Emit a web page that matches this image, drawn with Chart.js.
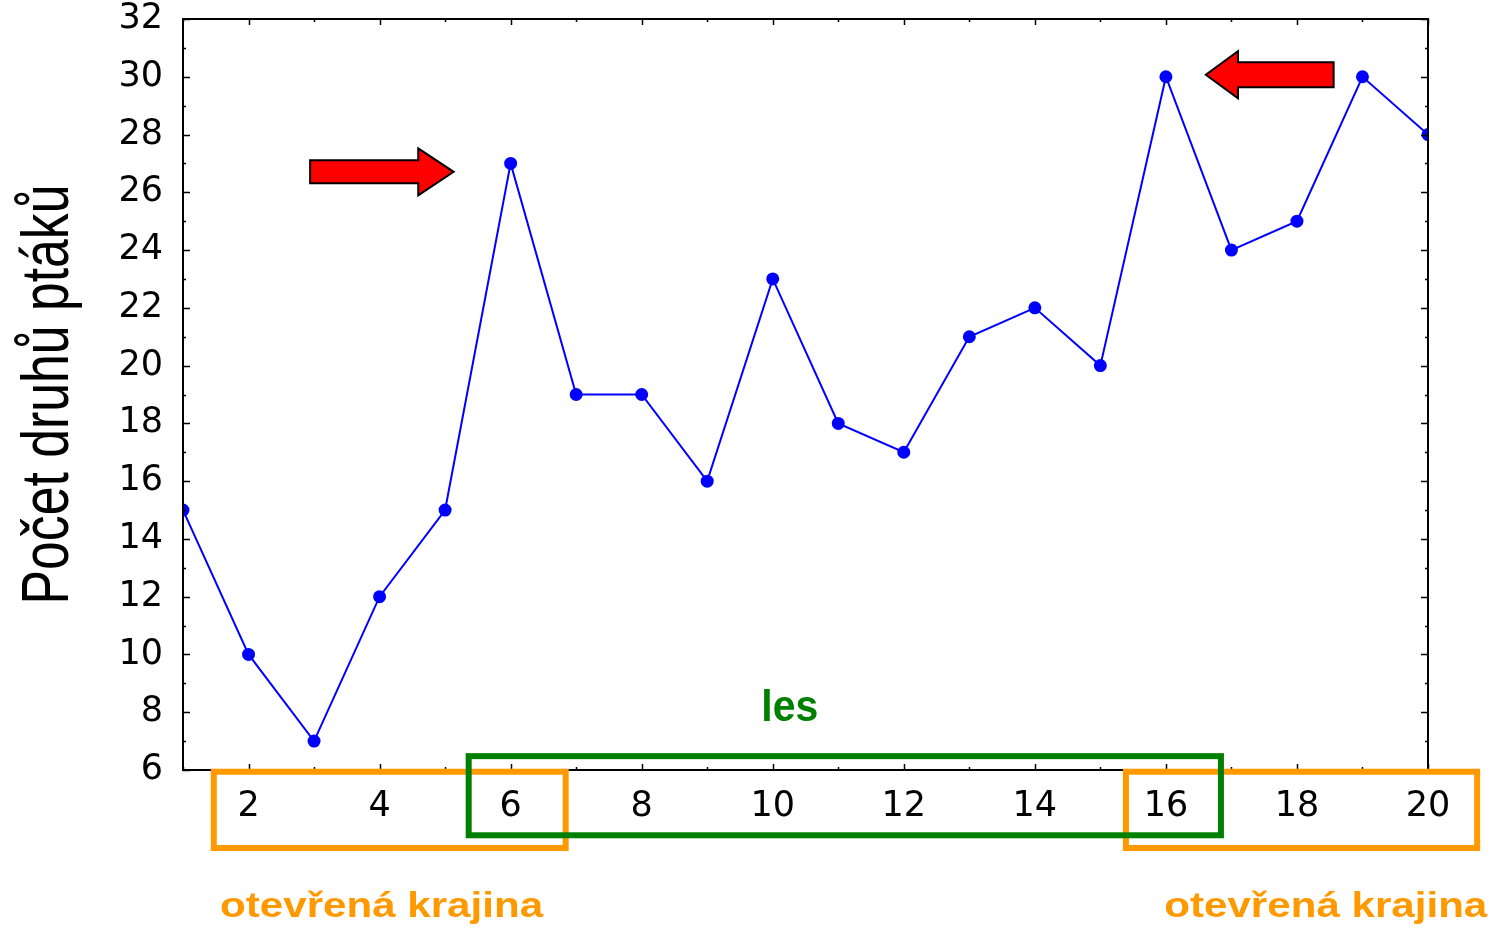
<!DOCTYPE html>
<html>
<head>
<meta charset="utf-8">
<script src="https://cdn.jsdelivr.net/npm/chart.js@4/dist/chart.umd.min.js"></script>
<style>
  body { margin: 0; background: #fff; }
  canvas { display: block; }
</style>
</head>
<body>
<canvas id="myChart" width="1499" height="929"></canvas>
<script>
// sample sites along transect and bird species counted at each
const sites = [1, 2, 3, 4, 5, 6, 7, 8, 9, 10, 11, 12, 13, 14, 15, 16, 17, 18, 19, 20];
const speciesCount = [15, 10, 7, 12, 15, 27, 19, 19, 16, 23, 18, 17, 21, 22, 20, 30, 24, 25, 30, 28];
const xTickLabels = [2, 4, 6, 8, 10, 12, 14, 16, 18, 20];
const yTickLabels = [6, 8, 10, 12, 14, 16, 18, 20, 22, 24, 26, 28, 30, 32];
const yTitle = 'Počet druhů ptáků';

const orange = '#ff9900';
const green = '#008000';

// frame + inner ticks + annotations
const decor = {
  id: 'decor',
  afterDatasetsDraw(chart) {
    const c = chart.ctx;
    const a = chart.chartArea;
    const xs = chart.scales.x;
    const ys = chart.scales.y;
    const px = v => xs.getPixelForValue(v);
    const py = v => ys.getPixelForValue(v);

    c.save();
    c.strokeStyle = '#000';
    c.lineWidth = 1.5;
    c.beginPath();
    for (let v = 1; v <= 20; v++) {
      const len = v % 2 === 0 ? 6 : 3;
      const x = Math.round(px(v)) + 0.5;
      c.moveTo(x, a.bottom); c.lineTo(x, a.bottom - len);
      c.moveTo(x, a.top); c.lineTo(x, a.top + len);
    }
    for (let v = 6; v <= 32; v++) {
      const len = v % 2 === 0 ? 7 : 3;
      const y = Math.round(py(v)) + 0.5;
      c.moveTo(a.left, y); c.lineTo(a.left + len, y);
      c.moveTo(a.right, y); c.lineTo(a.right - len, y);
    }
    c.stroke();
    c.lineWidth = 2;
    c.strokeRect(a.left, a.top, a.right - a.left, a.bottom - a.top);
    c.restore();
  },
  afterDraw(chart) {
    const c = chart.ctx;
    const a = chart.chartArea;
    const xs = chart.scales.x;
    const ys = chart.scales.y;
    const px = v => xs.getPixelForValue(v);
    const py = v => ys.getPixelForValue(v);

    function box(x1, x2, y1, y2, color) {
      c.save();
      c.strokeStyle = color;
      c.lineWidth = 6;
      c.strokeRect(px(x1), py(y1), px(x2) - px(x1), py(y2) - py(y1));
      c.restore();
    }
    function arrow(tail, headBase, tip, yv, bodyH, headH) {
      const y = py(yv);
      c.save();
      c.beginPath();
      c.moveTo(px(tail), y - bodyH);
      c.lineTo(px(headBase), y - bodyH);
      c.lineTo(px(headBase), y - headH);
      c.lineTo(px(tip), y);
      c.lineTo(px(headBase), y + headH);
      c.lineTo(px(headBase), y + bodyH);
      c.lineTo(px(tail), y + bodyH);
      c.closePath();
      c.fillStyle = '#ff0000';
      c.fill();
      c.strokeStyle = '#000';
      c.lineWidth = 2;
      c.stroke();
      c.restore();
    }
    // text stretched to a given width, like the original picture
    function label(text, xv, yv, color, size, width) {
      c.save();
      c.fillStyle = color;
      c.font = 'bold ' + size + 'px "Liberation Sans", Arial, sans-serif';
      const w = c.measureText(text).width;
      c.translate(px(xv), py(yv));
      c.scale(width / w, 1);
      c.textAlign = 'center';
      c.textBaseline = 'alphabetic';
      c.fillText(text, 0, 0);
      c.restore();
    }

    box(1.47, 6.84, 5.94, 3.30, orange);
    box(15.39, 20.75, 5.94, 3.30, orange);
    box(5.36, 16.84, 6.48, 3.74, green);

    arrow(2.94, 4.59, 5.13, 26.71, 11.5, 23.5);
    arrow(18.56, 17.10, 16.61, 30.07, 12.5, 23.5);

    label('les', 10.26, 7.69, green, 44, 57);
    label('otevřená krajina', 4.03, 0.91, orange, 35, 323);
    label('otevřená krajina', 18.44, 0.91, orange, 35, 323);

    // y axis title, condensed
    c.save();
    c.fillStyle = '#000';
    c.font = '67px "Liberation Sans", Arial, sans-serif';
    const tw = c.measureText(yTitle).width;
    c.translate(68, (a.top + a.bottom) / 2);
    c.rotate(-Math.PI / 2);
    c.scale(420 / tw, 1);
    c.textAlign = 'center';
    c.textBaseline = 'alphabetic';
    c.fillText(yTitle, 0, 0);
    c.restore();
  }
};

const ctx = document.getElementById('myChart').getContext('2d');
const myChart = new Chart(ctx, {
  type: 'line',
  data: {
    datasets: [{
      label: yTitle,
      data: sites.map((s, i) => ({ x: s, y: speciesCount[i] })),
      borderColor: '#0000ff',
      backgroundColor: '#0000ff',
      borderWidth: 2,
      pointRadius: 5.5,
      pointHoverRadius: 5.5,
      tension: 0,
      clip: 0
    }]
  },
  options: {
    responsive: false,
    animation: false,
    layout: { autoPadding: false, padding: { top: 19, right: 71, left: 0, bottom: 0 } },
    plugins: {
      legend: { display: false },
      tooltip: { enabled: false }
    },
    scales: {
      x: {
        type: 'linear',
        min: 1,
        max: 20,
        afterBuildTicks: s => { s.ticks = xTickLabels.map(v => ({ value: v })); },
        afterFit: s => { s.height = 159; },
        grid: { display: false, drawTicks: false },
        border: { display: false },
        ticks: {
          color: '#000',
          padding: 19,
          maxRotation: 0,
          autoSkip: false,
          font: { family: '"DejaVu Sans"', size: 35, lineHeight: 1 }
        }
      },
      y: {
        min: 6,
        max: 32,
        afterBuildTicks: s => { s.ticks = yTickLabels.map(v => ({ value: v })); },
        afterFit: s => { s.width = 183; s.paddingTop = 0; s.paddingBottom = 0; },
        grid: { display: false, drawTicks: false },
        border: { display: false },
        ticks: {
          color: '#000',
          padding: 20,
          autoSkip: false,
          font: { family: '"DejaVu Sans"', size: 35, lineHeight: 1 }
        }
      }
    }
  },
  plugins: [decor]
});
</script>
</body>
</html>
